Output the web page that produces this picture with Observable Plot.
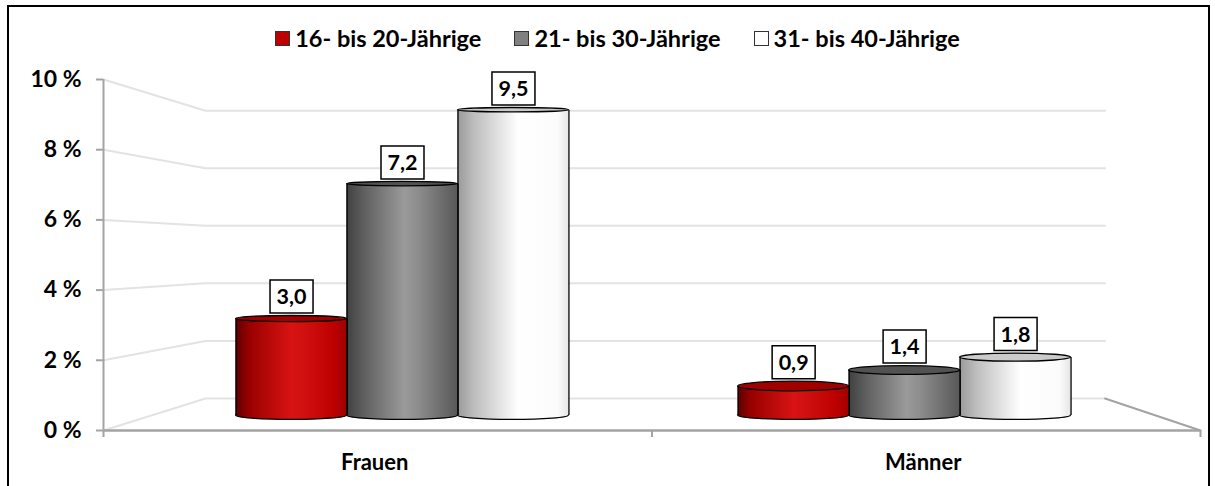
<!DOCTYPE html>
<html>
<head>
<meta charset="utf-8">
<script src="https://cdn.jsdelivr.net/npm/d3@7"></script>
<script src="https://cdn.jsdelivr.net/npm/@observablehq/plot@0.6"></script>
<style>
  html, body { margin: 0; padding: 0; background: #fff; }
  #wrap { position: relative; width: 1215px; height: 486px; overflow: hidden; font-family: Lato, "Open Sans", sans-serif; }
  #frame { position: absolute; left: 7px; top: 5px; width: 1203px; height: 495px; border: 2px solid #000; box-sizing: border-box; }
  #chart { position: absolute; left: 0; top: 0; }
  #legend { position: absolute; top: 24px; left: 10px; width: 1215px; display: flex; justify-content: center; gap: 33px; font-weight: bold; font-size: 23.5px; line-height: 28px; color: #000; }
  .item { display: flex; align-items: center; }
  .sw { width: 15px; height: 15px; box-sizing: border-box; border: 1.5px solid #333; margin-right: 5px; }
</style>
</head>
<body>
<div id="wrap">
  <div id="frame"></div>
  <div id="chart"></div>
  <div id="legend"></div>
</div>
<script>
// ---- data ----
const categories = ["Frauen", "Männer"];
const seriesNames = ["16- bis 20-Jährige", "21- bis 30-Jährige", "31- bis 40-Jährige"];
const values16to20 = [3.0, 0.9];
const values21to30 = [7.2, 1.4];
const values31to40 = [9.5, 1.8];
const yTicks = [0, 2, 4, 6, 8, 10];

// ---- styles ----
const seriesValues = [values16to20, values21to30, values31to40];
const bodyFill = ["url(#gRed)", "url(#gGrey)", "url(#gWhite)"];
const topFill = ["#a00000", "#525252", "#cbcbcb"];
const swatch = ["#c00000", "#808080", "#ffffff"];

// ---- layout (front plane = the drawn axes) ----
const W = 1215, H = 486;
const mL = 103, mR = 15, mT = 79, mB = 56;
const pxPerX = W - mL - mR;           // px per x-unit
const pxPerY = (H - mT - mB) / 10;    // px per y-unit
// oblique perspective: back wall expressed in front-axis units
const BACK_X0 = 0.093, BACK_Y0 = 0.912, SHRINK = 0.18;
const projX = (f, d) => BACK_X0 * d + f * (1 - SHRINK * d);
const projY = (v, d) => BACK_Y0 * d + v * (1 - SHRINK * d);
const DEPTH = 0.47, BAR_W = 0.1105;
const ryBottom = 4.5 / pxPerY;
const ryTop = v => Math.max(2.2, 5.6 - 0.85 * v) / pxPerY;

// bars
const bars = [];
categories.forEach((c, i) => {
  seriesValues.forEach((vals, j) => {
    const v = vals[i];
    const fc = (i + 0.5) / categories.length + (j - 1) * BAR_W;
    const base = projY(0, DEPTH), top = projY(v, DEPTH);
    const rt = ryTop(v);
    bars.push({
      cat: c, series: j, value: v,
      x1: projX(fc - BAR_W / 2, DEPTH), x2: projX(fc + BAR_W / 2, DEPTH), xc: projX(fc, DEPTH),
      base, top, rt,
      label: top + rt + 19.5 / pxPerY,
      body: bodyFill[j], cap: topFill[j]
    });
  });
});

// back wall gridlines
const grid = [];
yTicks.forEach(v => {
  grid.push({v, x: 0, y: v});
  grid.push({v, x: projX(0, 1), y: projY(v, 1)});
  grid.push({v, x: projX(1, 1), y: projY(v, 1)});
});
const floorRight = [{x: 1, y: 0}, {x: projX(1, 1), y: projY(0, 1)}];
const catBounds = d3.range(categories.length + 1).map(i => i / categories.length);
const catLabels = categories.map((c, i) => ({c, x: (i + 0.5) / categories.length}));

const boxSymbol = { draw(ctx) { ctx.rect(-21.5, -16.5, 43, 33); } };
const AX = "#a3a3a3";
const tickFmt = d => d + " %";

const hasAxisMark = typeof Plot.axisY === "function";
const yAxisMarks = hasAxisMark
  ? [Plot.axisY(yTicks, {tickFormat: tickFmt, tickSize: 0, tickPadding: 22, fontSize: 23, fontWeight: "bold", label: null})]
  : [];

const svg = Plot.plot({
  width: W, height: H,
  marginLeft: mL, marginRight: mR, marginTop: mT, marginBottom: mB,
  style: { background: "transparent", fontFamily: "Lato, 'Open Sans', sans-serif", fontSize: "23px", fontWeight: "bold", color: "#000" },
  x: { domain: [0, 1], axis: null },
  y: hasAxisMark
    ? { domain: [0, 10] }
    : { domain: [0, 10], ticks: yTicks, tickFormat: tickFmt, tickSize: 0, tickPadding: 22, label: null },
  marks: [
    ...yAxisMarks,
    Plot.line(grid, {x: "x", y: "y", z: "v", stroke: "#e3e3e3", strokeWidth: 2}),
    Plot.line(floorRight, {x: "x", y: "y", stroke: AX, strokeWidth: 2}),
    Plot.ruleY([0], {x1: 0, x2: 1, stroke: AX, strokeWidth: 2.5}),
    Plot.ruleX([0], {y1: 0, y2: 10, stroke: AX, strokeWidth: 2}),
    Plot.ruleY(yTicks, {x1: -7 / pxPerX, x2: 0, stroke: AX, strokeWidth: 2}),
    Plot.ruleX(catBounds, {y1: 0, y2: -7 / pxPerY, stroke: AX, strokeWidth: 2}),
    Plot.text(catLabels, {x: "x", y: 0, text: "c", dy: 32, dx: -3, fontSize: 22, fontWeight: "bold"}),
    // cylinders
    Plot.rect(bars, {x1: "x1", x2: "x2", y1: d => d.base - ryBottom, y2: d => d.base + ryBottom, fill: "body", stroke: "#000", strokeWidth: 1.3, rx: 1000, ry: 1000}),
    Plot.rect(bars, {x1: "x1", x2: "x2", y1: "base", y2: "top", fill: "body"}),
    Plot.ruleX(bars, {x: "x1", y1: "base", y2: "top", stroke: "#000", strokeWidth: 1.3}),
    Plot.ruleX(bars, {x: "x2", y1: "base", y2: "top", stroke: "#000", strokeWidth: 1.3}),
    Plot.rect(bars, {x1: "x1", x2: "x2", y1: d => d.top - d.rt, y2: d => d.top + d.rt, fill: "cap", stroke: "#000", strokeWidth: 1.3, rx: 1000, ry: 1000}),
    // labels
    Plot.dot(bars, {x: "xc", y: "label", symbol: boxSymbol, fill: "#fff", stroke: "#000", strokeWidth: 1.5}),
    Plot.text(bars, {x: "xc", y: "label", text: d => d.value.toFixed(1).replace(".", ","), fontSize: 21.5, fontWeight: "bold", dy: 1})
  ]
});

const defs = d3.select(svg).insert("defs", ":first-child");
function grad(id, stops) {
  const g = defs.append("linearGradient").attr("id", id).attr("x1", "0").attr("x2", "1").attr("y1", "0").attr("y2", "0");
  stops.forEach(([o, c]) => g.append("stop").attr("offset", o).attr("stop-color", c));
}
grad("gRed", [[0, "#5e0000"], [0.12, "#980000"], [0.5, "#d81313"], [0.62, "#d01010"], [0.88, "#bd0000"], [1, "#a00000"]]);
grad("gGrey", [[0, "#404040"], [0.15, "#5e5e5e"], [0.52, "#9a9a9a"], [0.65, "#8c8c8c"], [1, "#585858"]]);
grad("gWhite", [[0, "#9a9a9a"], [0.15, "#bdbdbd"], [0.55, "#ffffff"], [0.9, "#fbfbfb"], [1, "#e6e6e6"]]);

document.getElementById("chart").appendChild(svg);

const legend = document.getElementById("legend");
seriesNames.forEach((s, j) => {
  const it = document.createElement("div");
  it.className = "item";
  const sw = document.createElement("div");
  sw.className = "sw";
  sw.style.background = swatch[j];
  const t = document.createElement("span");
  t.textContent = s;
  it.appendChild(sw); it.appendChild(t);
  legend.appendChild(it);
});
</script>
</body>
</html>
